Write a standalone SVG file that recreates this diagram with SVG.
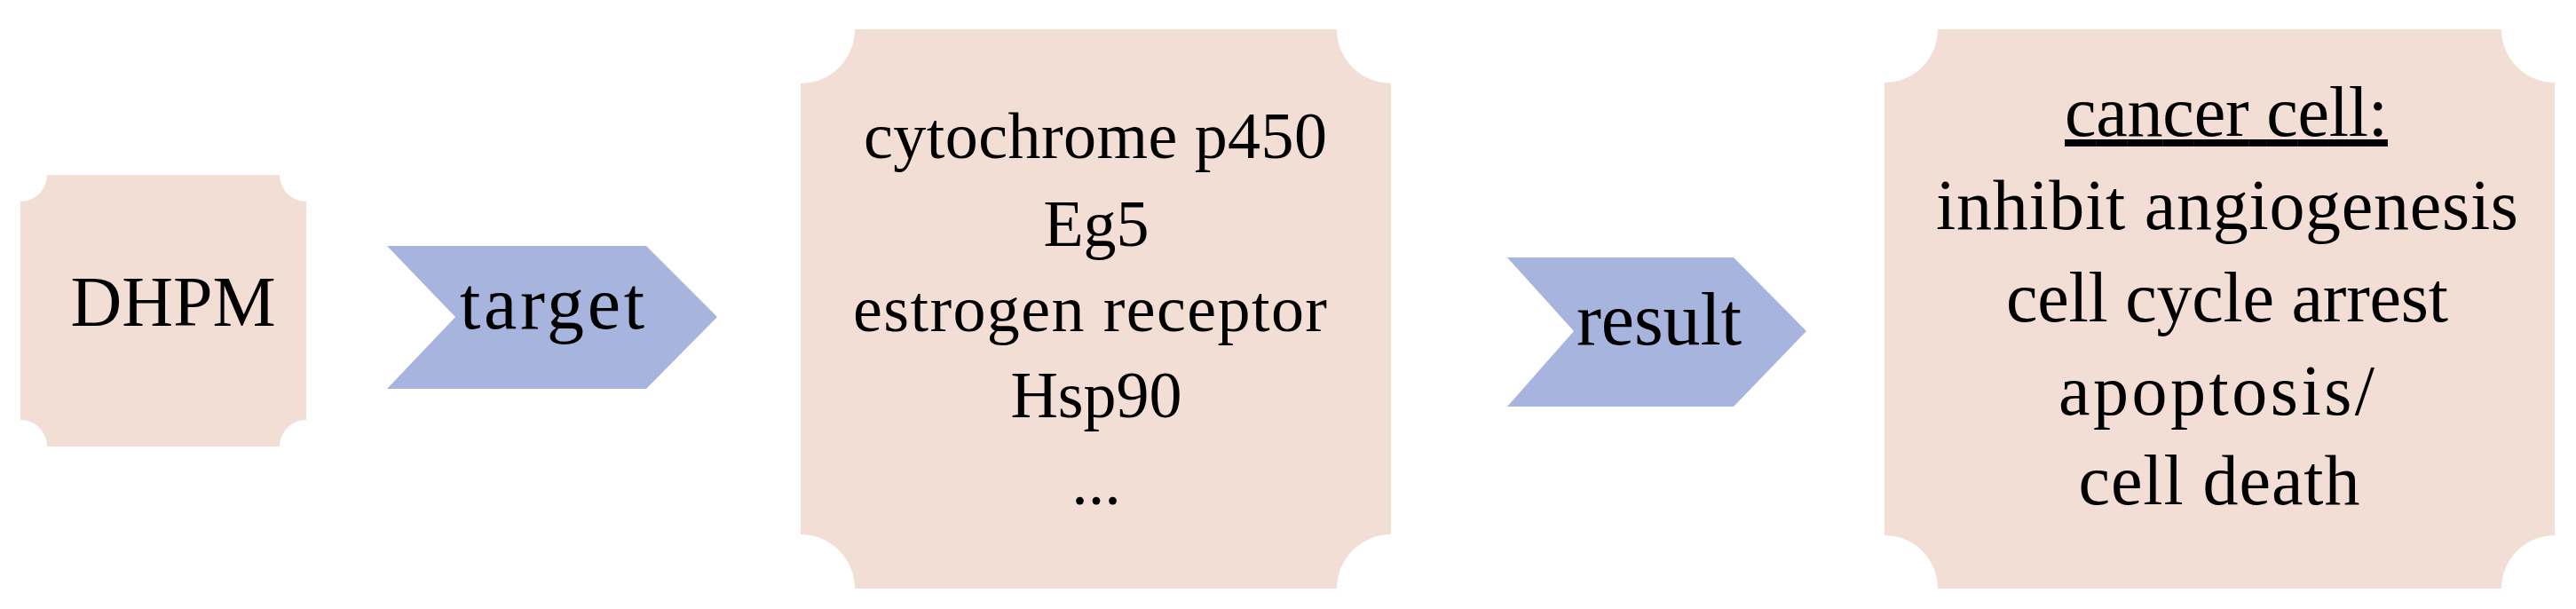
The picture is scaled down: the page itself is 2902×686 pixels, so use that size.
<svg xmlns="http://www.w3.org/2000/svg" width="2902" height="686" viewBox="0 0 2902 686">
<style>
.box{fill:#F3DED5;}
.chev{fill:#A7B5DE;}
text{font-family:"Liberation Serif","Times New Roman",serif;fill:#000;text-anchor:middle;}
.m{font-size:74px;}
.r{font-size:80px;}
.c{font-size:84px;}
</style>
<rect width="2902" height="686" fill="#FFFFFF"/>
<g id="connectors">
  <g id="arrow-target">
    <polygon class="chev" points="436,277 728,277 808,357 728,438 436,438 513,357"/>
    <text class="c" x="622" y="370" textLength="208" lengthAdjust="spacing">target</text>
  </g>
  <g id="arrow-result">
    <polygon class="chev" points="1698,290 1953,290 2035,373 1953,458 1698,458 1773,373"/>
    <text class="c" x="1869" y="388" textLength="186" lengthAdjust="spacing">result</text>
  </g>
</g>
<g id="node-dhpm">
  <path class="box" d="M53,197 H315 A30,30 0 0 0 345,227 V473 A30,30 0 0 0 315,503 H53 A30,30 0 0 0 23,473 V227 A30,30 0 0 0 53,197 Z"/>
  <text x="195" y="367" style="font-size:80px">DHPM</text>
</g>
<g id="node-targets">
  <path class="box" d="M963,33 H1506 A61,61 0 0 0 1567,94 V602 A61,61 0 0 0 1506,663 H963 A61,61 0 0 0 902,602 V94 A61,61 0 0 0 963,33 Z"/>
  <text class="m" x="1234" y="178" textLength="522" lengthAdjust="spacing">cytochrome p450</text>
  <text class="m" x="1235" y="277">Eg5</text>
  <text class="m" x="1228" y="373" textLength="534" lengthAdjust="spacing">estrogen receptor</text>
  <text class="m" x="1235" y="470">Hsp90</text>
  <text class="m" x="1235" y="568">...</text>
</g>
<g id="node-cancer-cell">
  <path class="box" d="M2183,33 H2818 A60,60 0 0 0 2878,93 V603 A60,60 0 0 0 2818,663 H2183 A60,60 0 0 0 2123,603 V93 A60,60 0 0 0 2183,33 Z"/>
  <text class="r" x="2508" y="153" textLength="364" lengthAdjust="spacing" text-decoration="underline">cancer cell:</text>
  <text class="r" x="2509" y="258" textLength="656" lengthAdjust="spacing">inhibit angiogenesis</text>
  <text class="r" x="2509" y="362" textLength="498" lengthAdjust="spacing">cell cycle arrest</text>
  <text class="r" x="2497" y="467" textLength="356" lengthAdjust="spacing">apoptosis/</text>
  <text class="r" x="2500" y="568" textLength="317" lengthAdjust="spacing">cell death</text>
</g>
</svg>
